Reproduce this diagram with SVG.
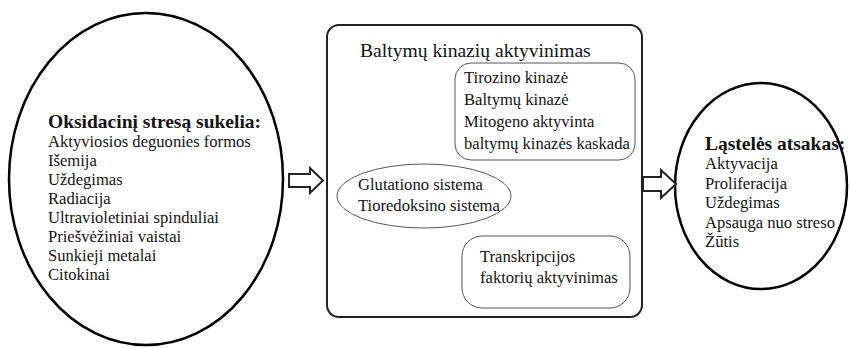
<svg xmlns="http://www.w3.org/2000/svg" width="850" height="348" viewBox="0 0 850 348">
  <style>
    text { font-family: "Liberation Serif", "Times New Roman", serif; fill: #141414; }
    .t { font-size: 16.6px; }
    .h { font-size: 19.5px; font-weight: bold; }
    .title { font-size: 19.6px; }
    .big { fill: #fff; stroke: #000; stroke-width: 2.5; }
    .box { fill: #fff; stroke: #222; stroke-width: 2; }
    .inner { fill: none; stroke: #555; stroke-width: 1; }
    .arrow { fill: #fff; stroke: #222; stroke-width: 2; stroke-linejoin: miter; }
  </style>
  <rect width="850" height="348" fill="#fff"/>

  <!-- causes of oxidative stress -->
  <g id="causes">
    <ellipse class="big" cx="146" cy="179" rx="137" ry="166"/>
    <text class="h" x="48" y="128">Oksidacinį stresą sukelia:</text>
    <text class="t" x="48" y="147">Aktyviosios deguonies formos</text>
    <text class="t" x="48" y="166">Išemija</text>
    <text class="t" x="48" y="185">Uždegimas</text>
    <text class="t" x="48" y="204">Radiacija</text>
    <text class="t" x="48" y="223">Ultravioletiniai spinduliai</text>
    <text class="t" x="48" y="242">Priešvėžiniai vaistai</text>
    <text class="t" x="48" y="261">Sunkieji metalai</text>
    <text class="t" x="48" y="280">Citokinai</text>
  </g>

  <!-- signalling box -->
  <g id="signalling">
    <rect class="box" x="327" y="25" width="315" height="292" rx="12"/>
    <text class="title" x="360" y="57">Baltymų kinazių aktyvinimas</text>
  </g>

  <g id="kinases">
    <rect class="inner" x="455" y="63" width="180" height="97" rx="16"/>
    <text class="t" x="464" y="83">Tirozino kinazė</text>
    <text class="t" x="464" y="105">Baltymų kinazė</text>
    <text class="t" x="464" y="127">Mitogeno aktyvinta</text>
    <text class="t" x="464" y="149">baltymų kinazės kaskada</text>
  </g>

  <g id="redox">
    <ellipse class="inner" cx="424" cy="196" rx="87" ry="32"/>
    <text class="t" x="358" y="190">Glutationo sistema</text>
    <text class="t" x="358" y="211">Tioredoksino sistema</text>
  </g>

  <g id="transcription">
    <rect class="inner" x="462" y="236" width="168" height="72" rx="20"/>
    <text class="t" x="480" y="262">Transkripcijos</text>
    <text class="t" x="480" y="283">faktorių aktyvinimas</text>
  </g>

  <!-- cell response -->
  <g id="response">
    <ellipse class="big" cx="761" cy="186" rx="86" ry="103"/>
    <text class="h" x="705" y="150">Ląstelės atsakas:</text>
    <text class="t" x="705" y="169">Aktyvacija</text>
    <text class="t" x="705" y="189">Proliferacija</text>
    <text class="t" x="705" y="208">Uždegimas</text>
    <text class="t" x="705" y="228">Apsauga nuo streso</text>
    <text class="t" x="705" y="247">Žūtis</text>
  </g>

  <!-- block arrows -->
  <g id="connectors">
    <polygon class="arrow" points="289,174 310,174 310,168 323,180.5 310,193 310,187 289,187"/>
    <polygon class="arrow" points="643,177 661,177 661,170 676,184 661,198 661,191 643,191"/>
  </g>
</svg>
